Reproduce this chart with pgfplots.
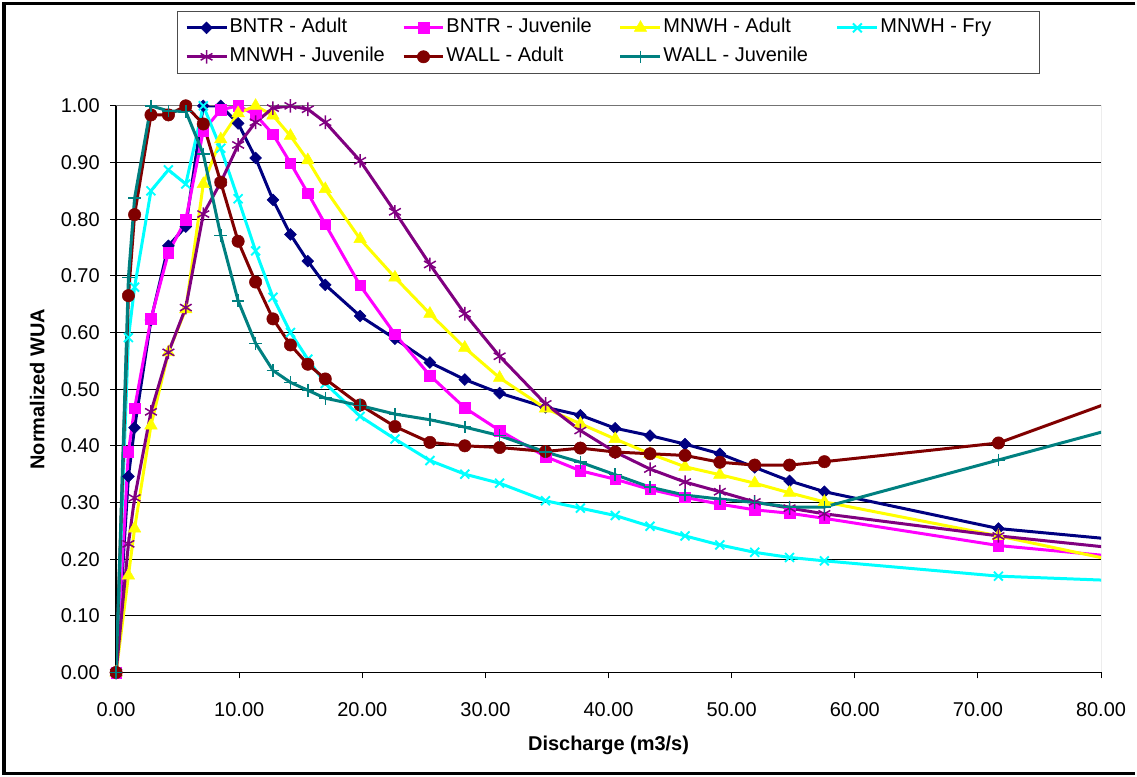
\documentclass[border=0pt]{standalone}
\usepackage{fontspec}
\setmainfont{Liberation Sans}
\usepackage{pgfplots}
\usepackage{pgfplotstable}
\pgfplotsset{compat=1.18}
\definecolor{cNavy}{RGB}{0,0,128}
\definecolor{cMag}{RGB}{255,0,255}
\definecolor{cYel}{RGB}{255,255,0}
\definecolor{cCyan}{RGB}{0,255,255}
\definecolor{cPurp}{RGB}{128,0,128}
\definecolor{cDRed}{RGB}{128,0,0}
\definecolor{cTeal}{RGB}{0,128,128}
\newcommand\chartfont{\fontsize{20bp}{24bp}\selectfont}
\pgfplotstableread{
x      bntrA  bntrJ  mnwhA  mnwhF  mnwhJ  wallA  wallJ
0      0      0      0      0      0      0      0
1.00   0.346  0.390  0.171  0.591  0.227  0.665  0.697
1.50   0.432  0.466  0.254  0.680  0.308  0.808  0.837
2.83   0.622  0.624  0.436  0.850  0.460  0.984  1.000
4.25   0.753  0.741  0.565  0.887  0.565  0.984  0.991
5.66   0.787  0.799  0.641  0.862  0.644  1.000  0.990
7.08   1.000  0.956  0.862  1.000  0.809  0.968  0.915
8.50   1.000  0.993  0.941  0.925  0.865  0.865  0.771
9.91   0.969  1.000  0.987  0.836  0.931  0.761  0.656
11.33  0.908  0.984  1.000  0.744  0.971  0.689  0.581
12.74  0.834  0.950  0.983  0.662  0.996  0.624  0.533
14.16  0.773  0.899  0.947  0.600  1.000  0.578  0.512
15.57  0.726  0.846  0.904  0.553  0.994  0.544  0.498
16.99  0.684  0.791  0.853  0.510  0.971  0.518  0.484
19.82  0.629  0.683  0.765  0.452  0.903  0.472  0.471
22.65  0.589  0.597  0.697  0.412  0.813  0.434  0.456
25.49  0.547  0.524  0.633  0.374  0.720  0.406  0.446
28.32  0.517  0.467  0.573  0.350  0.633  0.400  0.433
31.15  0.493  0.427  0.520  0.334  0.558  0.397  0.418
34.88  0.468  0.381  0.466  0.303  0.474  0.390  0.389
37.71  0.454  0.356  0.439  0.290  0.427  0.396  0.371
40.54  0.431  0.341  0.412  0.277  0.389  0.389  0.349
43.37  0.418  0.323  0.386  0.258  0.359  0.386  0.327
46.21  0.403  0.309  0.363  0.241  0.336  0.383  0.313
49.04  0.386  0.297  0.349  0.225  0.319  0.371  0.306
51.87  0.362  0.287  0.334  0.212  0.301  0.366  0.300
54.70  0.338  0.281  0.317  0.203  0.290  0.366  0.292
57.53  0.319  0.272  0.301  0.197  0.280  0.372  0.292
71.67  0.254  0.224  0.241  0.170  0.241  0.405  0.375
84.95  0.227  0.197  0.180  0.159  0.211  0.510  0.453
}\datatable
\begin{document}
\begin{tikzpicture}
\begin{axis}[
  width=986.4bp, height=567.5bp, scale only axis,
  xmin=0, xmax=80, ymin=0, ymax=1,
  axis x line*=bottom, axis y line*=left,
  axis line style={line width=1.3bp, black},
  xtick={0,10,20,30,40,50,60,70,80},
  ytick={0,0.1,0.2,0.3,0.4,0.5,0.6,0.7,0.8,0.9,1.0},
  tick align=outside, major tick length=6bp,
  tick style={line width=1bp, black},
  ymajorgrids, major grid style={line width=0.9bp, black},
  /pgf/number format/.cd, fixed, fixed zerofill, precision=2, assume math mode=true,
  /pgfplots/.cd,
  every tick label/.append style={font=\chartfont},
  xticklabel style={yshift=-21bp},
  yticklabel style={xshift=-7bp},
  xlabel={\textbf{Discharge (m3/s)}},
  ylabel={\textbf{Normalized WUA}},
  xlabel style={font=\chartfont, at={(axis description cs:0.5,-0.129)}, anchor=center},
  ylabel style={font=\chartfont, at={(axis description cs:-0.0801,0.5)}, anchor=center},
  legend columns=4,
  legend style={at={(axis description cs:0.0615,1.1674)}, anchor=north west,
    draw=black!70, line width=0.8bp, inner xsep=8bp, inner ysep=6.5bp,
    font=\chartfont, column sep=0pt, row sep=9bp,
    nodes={inner xsep=1.5bp, inner ysep=0bp, text height=15bp, text depth=5bp}},
  legend cell align=left,
  legend image code/.code={\draw[mark repeat=2,mark phase=2,#1] plot coordinates {(0bp,0bp) (20bp,0bp) (40bp,0bp)};},
]
\addplot[cNavy, line width=3bp, mark=square*, mark size=4.2bp, mark options={rotate=45, solid, line width=0.5bp}] table[x=x,y=bntrA]{\datatable};
\addlegendentry{\makebox[171.3bp][l]{BNTR - Adult}}
\addplot[cMag, line width=3bp, mark=square*, mark size=5.3bp, mark options={solid, line width=0.5bp}] table[x=x,y=bntrJ]{\datatable};
\addlegendentry{\makebox[171.3bp][l]{BNTR - Juvenile}}
\addplot[cYel, line width=3bp, mark=triangle*, mark size=7.2bp, mark options={solid, line width=0.5bp}] table[x=x,y=mnwhA]{\datatable};
\addlegendentry{\makebox[171.3bp][l]{MNWH - Adult}}
\addplot[cCyan, line width=3bp, mark=x, mark size=6.3bp, mark options={solid, line width=1.9bp}] table[x=x,y=mnwhF]{\datatable};
\addlegendentry{\makebox[150bp][l]{MNWH - Fry}}
\addplot[cPurp, line width=3bp, mark=asterisk, mark size=6.8bp, mark options={solid, line width=1.5bp}] table[x=x,y=mnwhJ]{\datatable};
\addlegendentry{\makebox[171.3bp][l]{MNWH - Juvenile}}
\addplot[cDRed, line width=3bp, mark=*, mark size=6.2bp, mark options={solid, line width=0.5bp}] table[x=x,y=wallA]{\datatable};
\addlegendentry{\makebox[171.3bp][l]{WALL - Adult}}
\addplot[cTeal, line width=3bp, mark=+, mark size=6.3bp, mark options={solid, line width=1.5bp}] table[x=x,y=wallJ]{\datatable};
\addlegendentry{\makebox[171.3bp][l]{WALL - Juvenile}}
\draw[black!55, line width=1bp] (rel axis cs:0,1) -- (rel axis cs:1,1) -- (rel axis cs:1,0);
\end{axis}
\pgfresetboundingbox
\draw[line width=3.5bp] (1020.7bp,670bp) -- (-112.3bp,670bp) -- (-112.3bp,-101bp) -- (1020.7bp,-101bp);
\path[use as bounding box] (-116.3bp,-104.5bp) rectangle (1020.7bp,673.5bp);
\end{tikzpicture}
\end{document}
